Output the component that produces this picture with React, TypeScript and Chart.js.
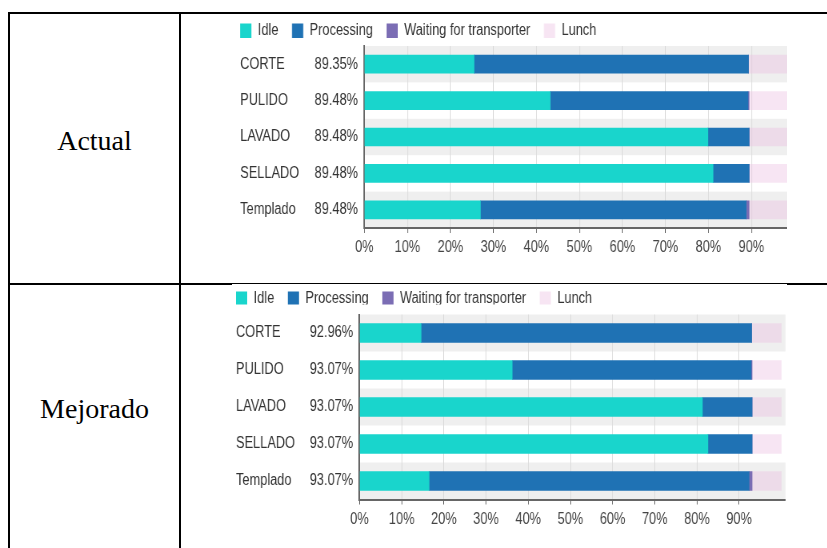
import React, { useEffect, useRef } from "react";
import { Chart, registerables } from "chart.js";

Chart.register(...registerables);

// ---------- data ----------
const categories = ["CORTE", "PULIDO", "LAVADO", "SELLADO", "Templado"];
const seriesNames = ["Idle", "Processing", "Waiting for transporter", "Lunch"];

const actualTotals = ["89.35%", "89.48%", "89.48%", "89.48%", "89.48%"];
const actualIdle = [25.5, 43.2, 79.9, 81.1, 27.0];
const actualProcessing = [63.85, 46.03, 9.58, 8.38, 61.78];
const actualWaiting = [0, 0.25, 0, 0, 0.7];
const actualLunch = [10.65, 10.52, 10.52, 10.52, 10.52];

const mejoradoTotals = ["92.96%", "93.07%", "93.07%", "93.07%", "93.07%"];
const mejoradoIdle = [14.6, 36.2, 81.3, 82.6, 16.5];
const mejoradoProcessing = [78.36, 56.67, 11.77, 10.47, 75.87];
const mejoradoWaiting = [0, 0.2, 0, 0, 0.7];
const mejoradoLunch = [7.04, 6.93, 6.93, 6.93, 6.93];

const rowLabels = ["Actual", "Mejorado"];

// ---------- styles ----------
const COLORS = {
  idle: "#19d5cc",
  processing: "#1f72b4",
  waiting: "#7b6db4",
  lunch: "rgba(236, 190, 225, 0.4)",
  band: "#efefef",
  grid: "#dcdcdc",
  axis: "#666666",
  text: "#333333",
};
const FONT = "'Liberation Sans', Arial, sans-serif";

const bandsPlugin = {
  id: "bands",
  beforeDraw(chart: any) {
    const { ctx, chartArea } = chart;
    const y = chart.scales.y;
    ctx.save();
    ctx.fillStyle = COLORS.band;
    for (let i = 0; i < categories.length; i += 2) {
      const top = y.getPixelForValue(i - 0.5);
      const bottom = y.getPixelForValue(i + 0.5);
      ctx.fillRect(chartArea.left, top, chartArea.right - chartArea.left, bottom - top);
    }
    ctx.restore();
  },
};

const legendShiftPlugin = {
  id: "legendShift",
  beforeDraw(chart: any, _args: any, opts: any) {
    const lg = chart.legend;
    if (!lg) return;
    const w = lg.right - lg.left;
    const h = lg.bottom - lg.top;
    lg.left = opts.left;
    lg.right = opts.left + w;
    lg.top = opts.top;
    lg.bottom = opts.top + h;
  },
};

type Layout = {
  canvasW: number;
  canvasH: number;
  padLeft: number;
  padRight: number;
  padBottom: number;
  areaTop: number;
  legendTop: number;
  yWidth: number;
  y2Width: number;
  barThickness: number;
  xMax: number;
};

function makeConfig(
  idle: number[],
  processing: number[],
  waiting: number[],
  lunch: number[],
  totals: string[],
  L: Layout
): any {
  const font = { family: FONT, size: 16 };
  const series = [idle, processing, waiting, lunch];
  const colors = [COLORS.idle, COLORS.processing, COLORS.waiting, COLORS.lunch];
  const legendPadding = 17;
  return {
    type: "bar",
    data: {
      labels: categories,
      datasets: series.map((d, i) => ({
        label: seriesNames[i],
        data: d,
        backgroundColor: colors[i],
        borderWidth: 0,
        barThickness: L.barThickness,
        yAxisID: "y",
      })),
    },
    options: {
      indexAxis: "y",
      animation: false,
      responsive: false,
      devicePixelRatio: 1,
      layout: { padding: { left: L.padLeft, right: L.padRight, top: 0, bottom: L.padBottom } },
      plugins: {
        legend: {
          position: "top",
          align: "start",
          maxHeight: L.areaTop,
          labels: {
            boxWidth: 14,
            boxHeight: 15,
            padding: legendPadding,
            color: COLORS.text,
            font,
          },
        },
        tooltip: { enabled: false },
        legendShift: { left: L.padLeft - legendPadding, top: L.legendTop },
      },
      scales: {
        x: {
          type: "linear",
          stacked: true,
          min: 0,
          max: L.xMax,
          ticks: {
            stepSize: 10,
            autoSkip: false,
            maxRotation: 0,
            padding: 5,
            color: "#444",
            font,
            callback: (v: number) => (v <= 90 ? v + "%" : ""),
          },
          grid: {
            color: (c: any) => (c.tick && c.tick.value > 90 ? "rgba(0,0,0,0)" : COLORS.grid),
            tickColor: (c: any) => (c.tick && c.tick.value > 90 ? "rgba(0,0,0,0)" : COLORS.axis),
            tickLength: 5,
            lineWidth: 1,
          },
          border: { display: true, color: COLORS.axis, width: 2 },
          afterFit: (s: any) => {
            s.height = 30;
          },
        },
        y: {
          type: "category",
          stacked: true,
          position: "left",
          weight: 0,
          labels: totals,
          offset: true,
          grid: { display: false, drawTicks: false },
          border: { display: true, color: COLORS.axis, width: 2 },
          ticks: { padding: 8, color: COLORS.text, font },
          afterFit: (s: any) => {
            s.width = L.yWidth;
          },
        },
        y2: {
          type: "category",
          axis: "y",
          position: "left",
          weight: 1,
          labels: categories,
          offset: true,
          grid: { display: false, drawTicks: false },
          border: { display: false },
          ticks: { crossAlign: "far", padding: 0, color: COLORS.text, font },
          afterFit: (s: any) => {
            s.width = L.y2Width;
          },
        },
      },
    },
    plugins: [bandsPlugin, legendShiftPlugin],
  };
}

function StateChart(props: { config: any; w: number; h: number }) {
  const ref = useRef<HTMLCanvasElement | null>(null);
  useEffect(() => {
    if (!ref.current) return;
    const chart = new Chart(ref.current, props.config);
    return () => chart.destroy();
  }, []);
  return (
    <canvas
      ref={ref}
      width={props.w}
      height={props.h}
      style={{ display: "block", transform: "scaleX(0.8)", transformOrigin: "0 0" }}
    />
  );
}

const layoutActual: Layout = {
  canvasW: 790,
  canvasH: 268,
  padLeft: 74,
  padRight: 23.25,
  padBottom: 24,
  areaTop: 32,
  legendTop: -8,
  yWidth: 80,
  y2Width: 75.25,
  barThickness: 18,
  xMax: 100,
};

const layoutMejorado: Layout = {
  canvasW: 720,
  canvasH: 264,
  padLeft: 5,
  padRight: 28.1,
  padBottom: 18.5,
  areaTop: 30.5,
  legendTop: -10,
  yWidth: 80,
  y2Width: 74.4,
  barThickness: 19,
  xMax: 101,
};

export default function App() {
  const cfgA = makeConfig(actualIdle, actualProcessing, actualWaiting, actualLunch, actualTotals, layoutActual);
  const cfgM = makeConfig(mejoradoIdle, mejoradoProcessing, mejoradoWaiting, mejoradoLunch, mejoradoTotals, layoutMejorado);
  const line = (l: number, t: number, w: number, h: number) => (
    <div style={{ position: "absolute", left: l, top: t, width: w, height: h, background: "#000" }} />
  );
  const cellText = (text: string, top: number) => (
    <div
      style={{
        position: "absolute",
        left: 10,
        width: 169,
        top,
        textAlign: "center",
        fontFamily: "'Liberation Serif', 'Times New Roman', serif",
        fontSize: 28,
        lineHeight: "28px",
        color: "#000",
        whiteSpace: "nowrap",
      }}
    >
      {text}
    </div>
  );
  return (
    <div
      style={{
        position: "fixed",
        left: 0,
        top: 0,
        width: 827,
        height: 548,
        overflow: "hidden",
        background: "#fff",
      }}
    >
      {line(8, 12, 819, 2)}
      {line(8, 283, 819, 2)}
      {line(8, 12, 2, 536)}
      {line(179, 12, 2, 536)}
      {cellText(rowLabels[0], 127)}
      {cellText(rowLabels[1], 395)}
      <div style={{ position: "absolute", left: 181, top: 14, width: 606, height: 268, overflow: "hidden" }}>
        <StateChart config={cfgA} w={layoutActual.canvasW} h={layoutActual.canvasH} />
      </div>
      <div
        style={{
          position: "absolute",
          left: 232,
          top: 284,
          width: 555,
          height: 264,
          overflow: "hidden",
          background: "#fff",
        }}
      >
        <StateChart config={cfgM} w={layoutMejorado.canvasW} h={layoutMejorado.canvasH} />
      </div>
    </div>
  );
}
